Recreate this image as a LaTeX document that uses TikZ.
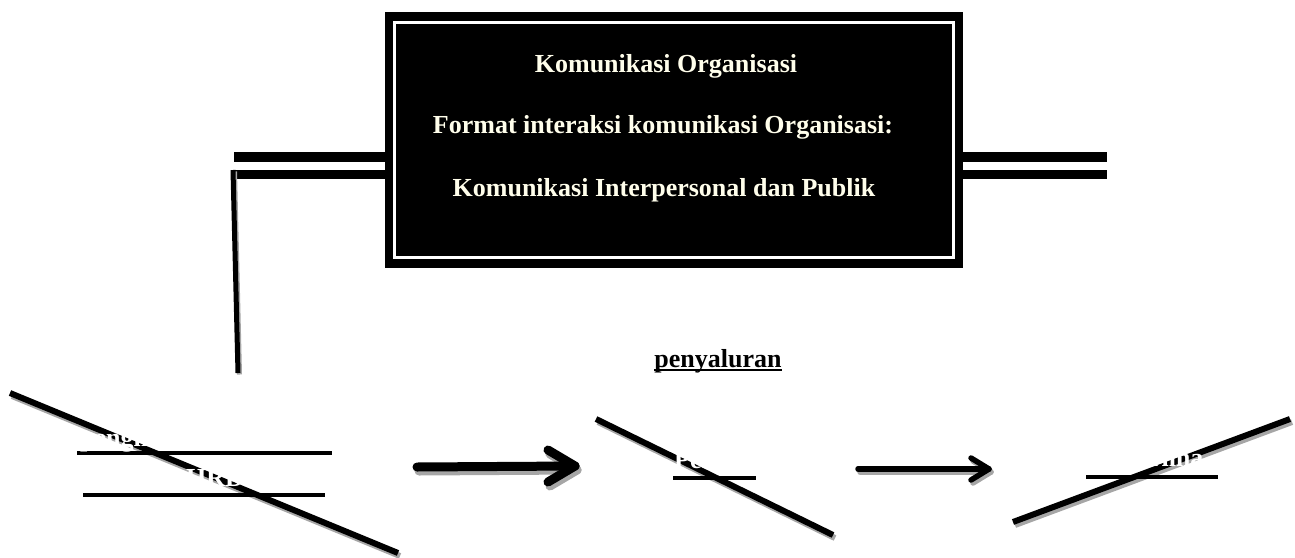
\documentclass[tikz,border=0pt]{standalone}
\usepackage{fontspec}
\setmainfont{Liberation Serif}
\begin{document}
\begin{tikzpicture}[x=1pt,y=-1pt,
  diag/.style={line width=6pt},
  diagshadow/.style={line width=6pt, draw=black!35},
  bar/.style={line width=9.5pt},
  hline/.style={line width=3.5pt},
  title/.style={text=white!92!yellow, font=\bfseries\fontsize{26}{30}\selectfont, inner sep=0pt},
  ghost/.style={text=white, font=\bfseries\fontsize{26}{30}\selectfont, inner sep=0pt},
  lbl/.style={text=black, font=\bfseries\fontsize{26}{30}\selectfont, inner sep=0pt}]
\useasboundingbox (0,0) rectangle (1295,557);

% double bars
\coordinate (bl1) at (234,157);  \coordinate (br1) at (1107,157);
\coordinate (bl2) at (234,174.5); \coordinate (br2) at (1107,174.5);
\draw[bar] (bl1) -- (br1);
\draw[bar] (bl2) -- (br2);

% central box
\node[fill=black, minimum width=578pt, minimum height=256pt, inner sep=0pt] (box) at (674,140) {};
\draw[white, line width=3pt] ([shift={(9.5pt,-10.5pt)}]box.north west) rectangle ([shift={(-9.5pt,11pt)}]box.south east);
\node[title] (t1) at (666,66) {Komunikasi Organisasi};
\node[title] (t2) at (663,127) {Format interaksi komunikasi Organisasi:};
\node[title] (t3) at (664,190) {Komunikasi Interpersonal dan Publik};

% vertical drop line
\coordinate (vtop) at (233,170);
\coordinate (vbot) at (238,373);
\draw[line width=5pt, draw=black!35] ([shift={(1.5,1.5)}]vtop) -- ([shift={(1.5,1.5)}]vbot);
\draw[line width=5pt] (vtop) -- (vbot);

% label
\node[lbl] (pen) at (718,361) {penyaluran};
\draw[line width=2pt] ([shift={(0,3pt)}]pen.south west) -- ([shift={(0,3pt)}]pen.south east);

% left group
\coordinate (la) at (10,393); \coordinate (lb) at (398,553);
\draw[diagshadow] ([shift={(2,3)}]la) -- ([shift={(2,3)}]lb);
\draw[diag] (la) -- (lb);
\draw[hline] (77,453) -- (332,453);
\draw[hline] (83,495) -- (325,495);
\node[ghost, anchor=base west] (lt1) at (80,446) {pengirim};
\node[ghost, anchor=base] (lt2) at (215,486) {HRD};

% arrow 1
\coordinate (a1s) at (417,467); \coordinate (a1e) at (575,466);
\begin{scope}[line width=9pt, line cap=round, line join=round]
\draw[draw=black!35] ([shift={(2,4)}]a1s) -- ([shift={(2,4)}]a1e);
\draw[draw=black!35] ([shift={(2,4)}]a1e) ++(-27,-16) -- ([shift={(2,4)}]a1e) -- ++(-27,16);
\draw (a1s) -- (a1e);
\draw (a1e) ++(-27,-16) -- (a1e) -- ++(-27,16);
\end{scope}

% middle group
\coordinate (ma) at (596,419); \coordinate (mb) at (833,535);
\draw[diagshadow] ([shift={(2,3)}]ma) -- ([shift={(2,3)}]mb);
\draw[diag] (ma) -- (mb);
\draw[hline] (673,478) -- (756,478);
\node[ghost, anchor=base west] (mt) at (674,468) {Pesan};

% arrow 2
\coordinate (a2s) at (858,469); \coordinate (a2e) at (989,469);
\begin{scope}[line width=5.5pt, line cap=round, line join=round]
\draw[draw=black!35] ([shift={(2,3)}]a2s) -- ([shift={(2,3)}]a2e);
\draw[draw=black!35] ([shift={(2,3)}]a2e) ++(-18,-11) -- ([shift={(2,3)}]a2e) -- ++(-18,11);
\draw (a2s) -- (a2e);
\draw (a2e) ++(-18,-11) -- (a2e) -- ++(-18,11);
\end{scope}

% right group
\coordinate (ra) at (1013,522); \coordinate (rb) at (1290,419);
\draw[diagshadow] ([shift={(2,3)}]ra) -- ([shift={(2,3)}]rb);
\draw[diag] (ra) -- (rb);
\draw[hline] (1086,477) -- (1218,477);
\node[ghost, anchor=base] (rt) at (1150,466) {Penerima};
\end{tikzpicture}
\end{document}
